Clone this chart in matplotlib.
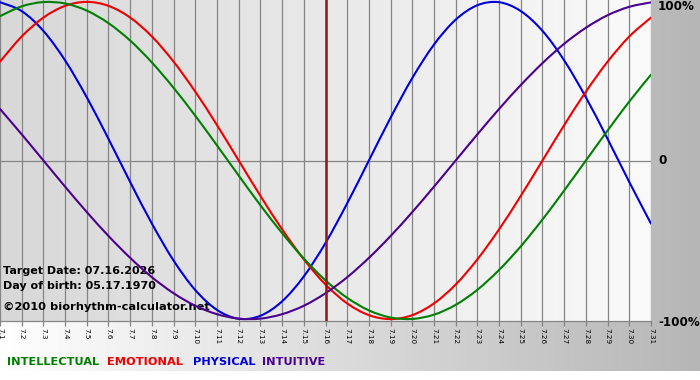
import numpy as np
import matplotlib
matplotlib.use("Agg")
import matplotlib.pyplot as plt
from matplotlib.colors import LinearSegmentedColormap
from matplotlib.path import Path
from matplotlib.patches import PathPatch

# ---- data ----
days = list(range(1, 32))
day_labels = [f"7.{d}" for d in days]
physical = [0.998, 0.942, 0.817, 0.631, 0.398, 0.136, -0.136, -0.398, -0.631, -0.817,
            -0.942, -0.998, -0.979, -0.888, -0.731, -0.520, -0.270, 0.0, 0.270, 0.520,
            0.731, 0.888, 0.979, 0.998, 0.942, 0.817, 0.631, 0.398, 0.136, -0.136, -0.398]
emotional = [0.623, 0.782, 0.901, 0.975, 1.0, 0.975, 0.901, 0.782, 0.623, 0.434,
             0.223, 0.0, -0.223, -0.434, -0.623, -0.782, -0.901, -0.975, -1.0, -0.975,
             -0.901, -0.782, -0.623, -0.434, -0.223, 0.0, 0.223, 0.434, 0.623, 0.782, 0.901]
intellectual = [0.910, 0.972, 0.999, 0.990, 0.945, 0.866, 0.756, 0.618, 0.458, 0.282,
                0.095, -0.095, -0.282, -0.458, -0.618, -0.756, -0.866, -0.945, -0.990, -0.999,
                -0.972, -0.910, -0.815, -0.690, -0.541, -0.372, -0.189, 0.0, 0.189, 0.372, 0.541]
intuitive = [0.325, 0.165, 0.0, -0.165, -0.325, -0.476, -0.614, -0.736, -0.837, -0.916,
             -0.969, -0.997, -0.997, -0.969, -0.916, -0.837, -0.736, -0.614, -0.476, -0.325,
             -0.165, 0.0, 0.165, 0.325, 0.476, 0.614, 0.736, 0.837, 0.916, 0.969, 0.997]
target_day = 16
y_ticks = [1, 0, -1]
y_labels = ["100%", "0", "-100%"]
legend_names = ["INTELLECTUAL", "EMOTIONAL", "PHYSICAL", "INTUITIVE"]
info_lines = ["Target Date: 07.16.2026", "Day of birth: 05.17.1970"]
copyright_text = "\u00a92010 biorhythm-calculator.net"

C_INT = "#008000"
C_EMO = "#ee0000"
C_PHY = "#0000dd"
C_INU = "#4b0090"

W, H = 700, 380
fig = plt.figure(figsize=(7, 3.8), dpi=100)
fig.patch.set_facecolor("white")

# background axes in pixel coordinates
bg = fig.add_axes([0, 0, 1, 1], zorder=-10)
bg.set_xlim(0, W)
bg.set_ylim(H, 0)
bg.axis("off")
grad = np.linspace(0, 1, 256).reshape(1, -1)
cm_out = LinearSegmentedColormap.from_list("o", ["#ffffff", "#b6b6b6"])
cm_in = LinearSegmentedColormap.from_list("i", ["#d8d8d8", "#fafafa"])
bg.imshow(grad, cmap=cm_out, extent=(0, W, 371, 0), aspect="auto")
bg.imshow(grad, cmap=cm_in, extent=(0, 651, 321, 0), aspect="auto")

ax = fig.add_axes([0, 59 / H, 651 / W, 321 / H])
ax.patch.set_alpha(0)
ax.set_xlim(1, 31)
ax.set_ylim(-1.012, 1.012)

for d in days:
    ax.axvline(d, color="#858585", lw=0.9, zorder=1)
ax.axhline(0, color="#858585", lw=0.9, zorder=1)

ax.set_xticks(days)
ax.set_xticklabels(day_labels, rotation=270, fontsize=5.2, family="DejaVu Sans")
ax.tick_params(axis="x", length=3.5, width=0.9, color="#858585", pad=1.5)
ax.set_yticks([])
for s in ["left", "right", "top"]:
    ax.spines[s].set_visible(False)
ax.spines["bottom"].set_color("#858585")
ax.spines["bottom"].set_linewidth(0.9)

# text block (drawn below curves)
tr = bg.transData
ax.text(3, 271, info_lines[0], transform=tr, fontsize=8, fontweight="bold",
        va="center", ha="left", zorder=2, clip_on=False)
ax.text(3, 286, info_lines[1], transform=tr, fontsize=8, fontweight="bold",
        va="center", ha="left", zorder=2, clip_on=False)
ax.text(3, 307, copyright_text, transform=tr, fontsize=8.2, fontweight="bold",
        va="center", ha="left", zorder=2, clip_on=False)


def smooth_line(axis, xs, ys, color):
    """Draw a smooth (Bezier) curve through the given points."""
    xs = np.asarray(xs, float)
    ys = np.asarray(ys, float)
    n = len(xs)
    verts = [(xs[0], ys[0])]
    codes = [Path.MOVETO]
    for i in range(n - 1):
        i0 = max(i - 1, 0)
        i3 = min(i + 2, n - 1)
        c1 = (xs[i] + (xs[i + 1] - xs[i0]) / 6, ys[i] + (ys[i + 1] - ys[i0]) / 6)
        c2 = (xs[i + 1] - (xs[i3] - xs[i]) / 6, ys[i + 1] - (ys[i3] - ys[i]) / 6)
        verts += [c1, c2, (xs[i + 1], ys[i + 1])]
        codes += [Path.CURVE4] * 3
    patch = PathPatch(Path(verts, codes), facecolor="none", edgecolor=color,
                      lw=1.5, zorder=3, capstyle="round", joinstyle="round")
    axis.add_patch(patch)


smooth_line(ax, days, physical, C_PHY)
smooth_line(ax, days, emotional, C_EMO)
smooth_line(ax, days, intellectual, C_INT)
smooth_line(ax, days, intuitive, C_INU)
ax.axvline(target_day, color="#8b1a1a", lw=1.8, zorder=4)

# right-side percentage labels
for yv, lab in zip(y_ticks, y_labels):
    ypx = {1: 7, 0: 161, -1: 322}[yv]
    fig.text(658 / W, 1 - ypx / H, lab, fontsize=8.6, fontweight="bold",
             va="center", ha="left")

# legend words
leg_x = [7, 107, 193, 262]
for name, x, c in zip(legend_names, leg_x, [C_INT, C_EMO, C_PHY, C_INU]):
    fig.text(x / W, 1 - 362 / H, name, color=c, fontsize=8.2, fontweight="bold",
             va="center", ha="left")

fig.savefig("out.png", dpi=100)
